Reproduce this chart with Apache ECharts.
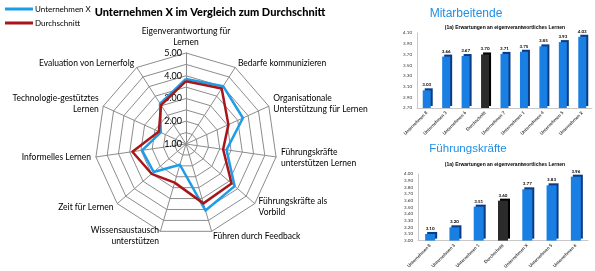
<!DOCTYPE html>
<html>
<head>
<meta charset="utf-8">
<script src="https://cdn.jsdelivr.net/npm/echarts@6/dist/echarts.min.js"></script>
<style>
html, body { margin: 0; padding: 0; background: #fff; }
#main { width: 595px; height: 271px; }
</style>
</head>
<body>
<div id="main"></div>
<script>
// Radar-Daten, Achsen im Uhrzeigersinn ab oben
const dimensionen = [
    'Eigenverantwortung für\nLernen',
    'Bedarfe kommunizieren',
    'Organisationale\nUnterstützung für Lernen',
    'Führungskräfte\nunterstützen Lernen',
    'Führungskräfte als\nVorbild',
    'Führen durch Feedback',
    'Wissensaustausch\nunterstützen',
    'Zeit für Lernen',
    'Informelles Lernen',
    'Technologie-gestütztes\nLernen',
    'Evaluation von Lernerfolg'
];
const unternehmenX = [3.86, 4.02, 3.75, 2.80, 3.83, 4.05, 1.95, 2.88, 2.95, 2.22, 3.11];
const durchschnitt = [3.76, 3.90, 3.05, 2.65, 3.65, 3.72, 2.77, 3.00, 3.38, 2.31, 3.03];
const radarMin = 1;
const radarMax = 5;

// Balken "Mitarbeitende"
const maKategorien = ['Unternehmen 8', 'Unternehmen 3', 'Unternehmen 6', 'Durchschnitt', 'Unternehmen 7',
    'Unternehmen 1', 'Unternehmen 4', 'Unternehmen 5', 'Unternehmen X'];
const maWerte = [3.03, 3.66, 3.67, 3.70, 3.71, 3.75, 3.85, 3.93, 4.03];
const maAchse = { min: 2.7, max: 4.1, step: 0.2 };

// Balken "Führungskräfte"
const fkKategorien = ['Unternehmen 8', 'Unternehmen 3', 'Unternehmen 1', 'Durchschnitt', 'Unternehmen X',
    'Unternehmen 5', 'Unternehmen 6'];
const fkWerte = [3.10, 3.20, 3.51, 3.60, 3.77, 3.83, 3.96];
const fkAchse = { min: 3.0, max: 4.0, step: 0.1 };

const BLAU = '#1d9ce8';
const ROT = '#a81619';
const FONT = 'Lato, "Liberation Sans", sans-serif';

// echarts radar geht gegen den Uhrzeigersinn -> Reihenfolge drehen
const ccw = arr => [arr[0]].concat(arr.slice(1).reverse());

let chart = echarts.init(document.getElementById('main'));

function balkenDaten(kat, werte) {
    return werte.map((v, i) => kat[i] === 'Durchschnitt'
        ? { value: v, itemStyle: { color: '#2b2b2b', shadowColor: '#000' } }
        : v);
}

function balkenSerie(idx, kat, werte) {
    return {
        type: 'bar',
        xAxisIndex: idx,
        yAxisIndex: idx,
        barWidth: idx === 0 ? 8 : 10,
        data: balkenDaten(kat, werte),
        itemStyle: { color: '#1a7fe2', shadowColor: '#0a3b86', shadowOffsetX: 2, shadowOffsetY: -2, shadowBlur: 0 },
        label: { show: true, position: 'top', distance: 3, fontSize: 4.5, fontWeight: 'bold', color: '#000',
            formatter: p => p.value.toFixed(2) },
        silent: true
    };
}

function xAchse(idx, kat) {
    return {
        type: 'category', gridIndex: idx, data: kat,
        axisLine: { lineStyle: { color: '#c8c8c8' } },
        axisTick: { show: false },
        axisLabel: { rotate: 45, fontSize: 4.5, fontWeight: 'bold', color: '#333', margin: 4, interval: 0 }
    };
}

function yAchse(idx, a) {
    return {
        type: 'value', gridIndex: idx, min: a.min, max: a.max, interval: a.step,
        axisLine: { show: true, lineStyle: { color: '#c8c8c8' } },
        axisTick: { show: false },
        splitLine: { show: false },
        axisLabel: { fontSize: 4.5, color: '#333', margin: 5, formatter: v => v.toFixed(2) }
    };
}

let option = {
    animation: false,
    textStyle: { fontFamily: FONT },
    title: [
        { text: 'Unternehmen X im Vergleich zum Durchschnitt', left: 205, top: 2, textAlign: 'center',
            textStyle: { fontSize: 11, fontWeight: 900, color: '#000', fontFamily: FONT } },
        { text: 'Mitarbeitende', left: 461, top: 3, textAlign: 'center',
            textStyle: { fontSize: 12, fontWeight: 'normal', color: '#1e8fe6', fontFamily: '"Liberation Sans", sans-serif' } },
        { text: '(1a) Erwartungen an eigenverantwortliches Lernen', left: 500, top: 20, textAlign: 'center',
            textStyle: { fontSize: 5, fontWeight: 'bold', color: '#000', fontFamily: '"Liberation Sans", sans-serif' } },
        { text: 'Führungskräfte', left: 463, top: 138, textAlign: 'center',
            textStyle: { fontSize: 11.5, fontWeight: 'normal', color: '#1e8fe6', fontFamily: '"Liberation Sans", sans-serif' } },
        { text: '(1a) Erwartungen an eigenverantwortliches Lernen', left: 500, top: 157, textAlign: 'center',
            textStyle: { fontSize: 5, fontWeight: 'bold', color: '#000', fontFamily: '"Liberation Sans", sans-serif' } }
    ],
    legend: {
        data: ['Unternehmen X', 'Durchschnitt'],
        orient: 'vertical', left: 0, top: 0, itemGap: 6,
        itemWidth: 28, itemHeight: 3, icon: 'rect',
        textStyle: { fontSize: 8, color: '#000', fontFamily: FONT, padding: [0, 0, 0, -3] }
    },
    radar: {
        center: [186, 144],
        radius: 91,
        startAngle: 90,
        shape: 'polygon',
        splitNumber: 8,
        indicator: ccw(dimensionen).map(n => ({ name: n, min: radarMin, max: radarMax })),
        axisName: { color: '#000', fontSize: 8.5, fontFamily: FONT, lineHeight: 11 },
        nameGap: 5,
        splitArea: { show: false },
        splitLine: { lineStyle: { color: '#8c8c8c', width: 1 } },
        axisLine: { lineStyle: { color: '#8c8c8c', width: 1 } }
    },
    polar: { center: [186, 144], radius: 91 },
    angleAxis: { show: false, startAngle: 90, min: 0, max: 360 },
    radiusAxis: {
        min: radarMin, max: radarMax, interval: 1,
        axisLine: { show: false }, axisTick: { show: false }, splitLine: { show: false },
        axisLabel: { fontSize: 9, color: '#000', formatter: v => v.toFixed(2), margin: 4 }
    },
    grid: [
        { left: 417, width: 175, top: 33, height: 75 },
        { left: 418, width: 170, top: 174, height: 71 }
    ],
    xAxis: [xAchse(0, maKategorien), xAchse(1, fkKategorien)],
    yAxis: [yAchse(0, maAchse), yAchse(1, fkAchse)],
    series: [
        {
            type: 'radar',
            symbol: 'none',
            silent: true,
            data: [
                { name: 'Unternehmen X', value: ccw(unternehmenX),
                    lineStyle: { color: BLAU, width: 2.5 }, itemStyle: { color: BLAU } },
                { name: 'Durchschnitt', value: ccw(durchschnitt),
                    lineStyle: { color: ROT, width: 2.5 }, itemStyle: { color: ROT } }
            ]
        },
        balkenSerie(0, maKategorien, maWerte),
        balkenSerie(1, fkKategorien, fkWerte)
    ]
};

chart.setOption(option);
</script>
</body>
</html>
